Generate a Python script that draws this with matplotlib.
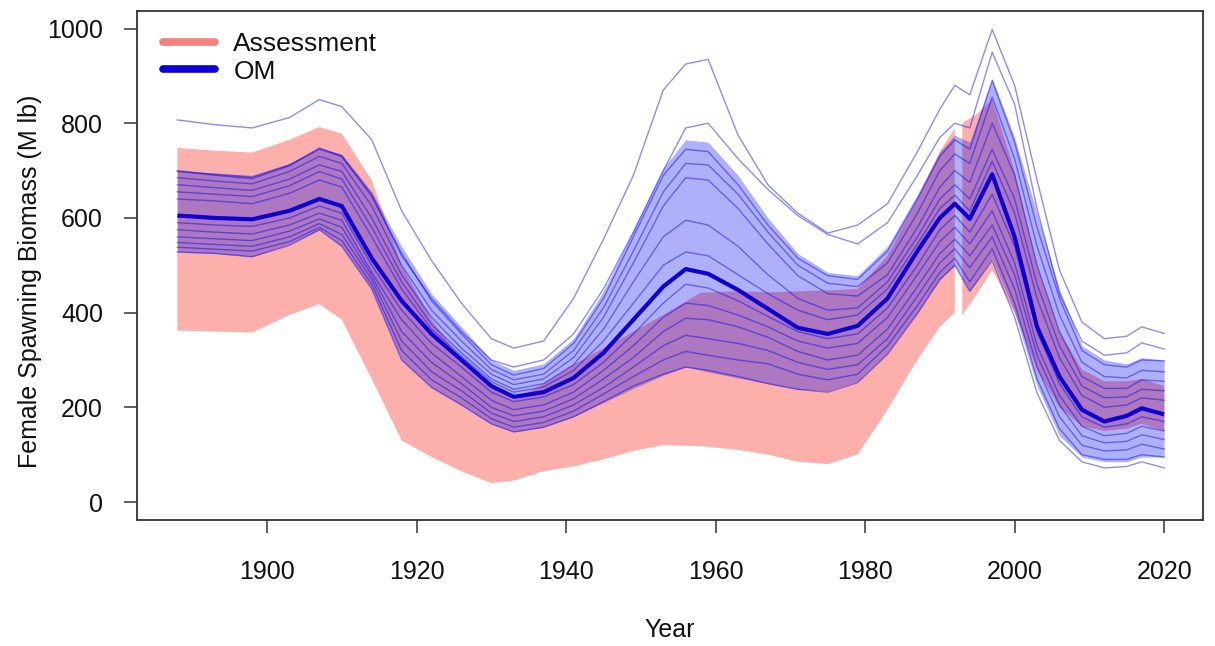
import numpy as np
import matplotlib
matplotlib.use("Agg")
import matplotlib.pyplot as plt
from matplotlib.lines import Line2D

plt.rcParams['font.family'] = ['Liberation Sans', 'DejaVu Sans']

# ---------------- data ----------------
om_years = [1888, 1893, 1898, 1903, 1907, 1910, 1914, 1918, 1922, 1926, 1930, 1933, 1937,
            1941, 1945, 1949, 1953, 1956, 1959, 1963, 1967, 1971, 1975, 1979, 1983, 1987,
            1990, 1992, 1994, 1997, 2000, 2003, 2006, 2009, 2012, 2015, 2017, 2020]

om_upper = [700, 695, 690, 715, 748, 735, 655, 540, 440, 370, 300, 278, 292, 345, 445, 575,
            705, 765, 760, 690, 600, 525, 485, 478, 540, 650, 740, 775, 760, 895, 770, 610,
            450, 330, 300, 292, 305, 300]
om_lower = [528, 525, 518, 545, 575, 540, 450, 300, 242, 205, 165, 148, 158, 180, 210, 240,
            268, 285, 275, 262, 250, 238, 235, 255, 315, 400, 470, 500, 445, 515, 400, 245,
            140, 95, 85, 85, 95, 95]
om_median = [605, 600, 597, 615, 640, 625, 515, 425, 355, 300, 245, 222, 232, 262, 315, 385,
             455, 492, 482, 448, 408, 368, 355, 372, 430, 530, 600, 630, 598, 692, 560, 370,
             265, 195, 170, 182, 198, 185]

om_runs = [
    [807, 797, 790, 812, 850, 835, 765, 615, 510, 420, 345, 325, 340, 430, 555, 690,
     870, 925, 935, 775, 670, 610, 568, 585, 630, 740, 830, 880, 860, 998, 880, 680,
     490, 380, 345, 350, 370, 356],
    [700, 690, 683, 710, 748, 730, 650, 520, 430, 360, 300, 285, 300, 355, 450, 570,
     700, 790, 800, 725, 660, 605, 565, 545, 590, 690, 770, 800, 790, 950, 840, 620,
     440, 340, 310, 315, 336, 323],
    [698, 692, 686, 712, 745, 730, 645, 525, 425, 355, 290, 268, 282, 335, 430, 560,
     690, 745, 740, 670, 585, 515, 478, 470, 530, 640, 730, 765, 745, 890, 760, 580,
     430, 320, 290, 285, 300, 298],
    [685, 678, 672, 698, 730, 715, 625, 500, 405, 340, 280, 258, 270, 320, 410, 530,
     655, 715, 712, 650, 570, 500, 462, 455, 505, 610, 700, 735, 715, 855, 725, 540,
     395, 295, 265, 262, 278, 275],
    [670, 664, 658, 682, 712, 698, 600, 480, 390, 325, 270, 248, 260, 305, 390, 505,
     625, 685, 680, 620, 545, 478, 440, 435, 480, 580, 665, 700, 675, 800, 690, 500,
     360, 265, 240, 240, 258, 255],
    [655, 650, 645, 668, 698, 682, 580, 465, 375, 315, 260, 238, 250, 290, 365, 465,
     560, 595, 585, 540, 480, 430, 405, 410, 465, 560, 640, 670, 640, 745, 640, 460,
     330, 245, 220, 222, 238, 235],
    [640, 636, 630, 652, 680, 665, 560, 450, 365, 308, 254, 232, 243, 278, 340, 420,
     500, 528, 520, 480, 440, 405, 385, 395, 450, 545, 620, 648, 615, 720, 610, 430,
     305, 225, 200, 205, 220, 215],
    [590, 585, 582, 600, 625, 610, 500, 405, 335, 285, 232, 212, 222, 248, 295, 355,
     420, 460, 452, 425, 392, 360, 345, 355, 410, 500, 575, 605, 570, 650, 540, 360,
     250, 180, 158, 165, 180, 170],
    [575, 570, 566, 585, 610, 595, 485, 385, 315, 265, 215, 195, 205, 232, 278, 330,
     390, 420, 415, 395, 370, 340, 325, 335, 390, 480, 550, 580, 545, 615, 505, 330,
     225, 160, 140, 145, 160, 150],
    [560, 556, 552, 572, 598, 580, 478, 360, 295, 250, 200, 182, 192, 218, 260, 305,
     360, 388, 385, 370, 348, 318, 300, 310, 365, 455, 525, 555, 520, 585, 480, 310,
     205, 140, 125, 128, 142, 132],
    [548, 544, 540, 560, 588, 565, 470, 340, 275, 235, 188, 170, 180, 205, 242, 285,
     330, 352, 345, 335, 320, 295, 280, 290, 345, 435, 505, 535, 495, 560, 450, 285,
     180, 120, 108, 110, 122, 112],
    [538, 534, 530, 550, 580, 552, 460, 320, 258, 220, 176, 158, 168, 192, 228, 265,
     300, 318, 310, 300, 292, 270, 258, 270, 330, 415, 485, 515, 465, 535, 420, 260,
     155, 100, 90, 90, 100, 95],
    [528, 525, 518, 542, 575, 540, 450, 300, 242, 205, 165, 148, 158, 180, 212, 245,
     270, 285, 278, 265, 250, 238, 232, 252, 312, 398, 470, 500, 445, 510, 390, 230,
     130, 85, 72, 75, 85, 72],
]

asmt_years = [1888, 1893, 1898, 1903, 1907, 1910, 1914, 1918, 1922, 1926, 1930, 1933, 1937,
              1941, 1945, 1949, 1953, 1958, 1963, 1967, 1971, 1975, 1979, 1983, 1987, 1990,
              1992, 1992.5, 1993, 1995, 1997, 2000, 2003, 2006, 2009, 2012, 2015, 2017, 2020]
asmt_upper = [748, 742, 738, 765, 792, 778, 680, 500, 385, 300, 245, 215, 250, 290, 325, 360,
              395, 442, 445, 443, 445, 447, 450, 520, 640, 740, 790, np.nan, 800, 820, 850,
              700, 500, 360, 280, 255, 255, 260, 245]
asmt_lower = [362, 360, 358, 395, 418, 385, 260, 130, 95, 65, 40, 45, 65, 75, 90, 108,
              120, 118, 110, 100, 85, 80, 100, 195, 300, 370, 400, np.nan, 395, 440, 490,
              400, 280, 200, 160, 150, 155, 165, 150]

x_ticks = [1900, 1920, 1940, 1960, 1980, 2000, 2020]
y_ticks = [0, 200, 400, 600, 800, 1000]

# ---------------- plot ----------------
fig = plt.figure(figsize=(12.15, 6.46), dpi=100)
ax = fig.add_axes([137 / 1215, 1 - 520 / 646, (1203 - 137) / 1215, (520 - 11) / 646])

ax.fill_between(asmt_years, asmt_lower, asmt_upper, color=(0.98, 0.05, 0.0), alpha=0.33,
                linewidth=0, zorder=1)
ax.fill_between(om_years, om_lower, om_upper, color=(0.0, 0.0, 0.95), alpha=0.31,
                linewidth=0, zorder=2)
for run in om_runs:
    ax.plot(om_years, run, color=(0.0, 0.0, 0.95), alpha=0.45, lw=1.0, zorder=3)
ax.plot(om_years, om_median, color=(0.05, 0.0, 0.82), lw=3.0, zorder=4,
        solid_capstyle='butt')

ax.set_xlim(1882.6, 2025.2)
ax.set_ylim(-38, 1037)
ax.set_xticks(x_ticks)
ax.set_yticks(y_ticks)
ax.tick_params(axis='both', direction='out', length=9.5, width=1.1, labelsize=18,
               color='#333333', labelcolor='#111111')
ax.tick_params(axis='x', pad=19)
ax.tick_params(axis='y', pad=15)
for s in ax.spines.values():
    s.set_linewidth(1.3)
    s.set_color('#333333')

ax.set_xlabel('Year', fontsize=18, color='#111111')
ax.set_ylabel('Female Spawning Biomass (M lb)', fontsize=18, color='#111111')
ax.xaxis.set_label_coords(0.5, -0.2165, transform=ax.transAxes)
ax.yaxis.set_label_coords(-0.1003, 0.468, transform=ax.transAxes)
ax.xaxis.label.set_verticalalignment('center')
ax.yaxis.label.set_verticalalignment('center')

handles = [Line2D([0], [0], color=(0.96, 0.5, 0.5), lw=5.5, solid_capstyle='round'),
           Line2D([0], [0], color=(0.05, 0.0, 0.85), lw=5.5, solid_capstyle='round')]
ax.legend(handles, ['Assessment', 'OM'], loc='upper left', bbox_to_anchor=(0.024, 0.959),
          frameon=False, fontsize=19, handlelength=2.0, handletextpad=0.68,
          labelspacing=0.14, borderpad=0, borderaxespad=0, labelcolor='#111111')

fig.savefig('out.png', dpi=100)
